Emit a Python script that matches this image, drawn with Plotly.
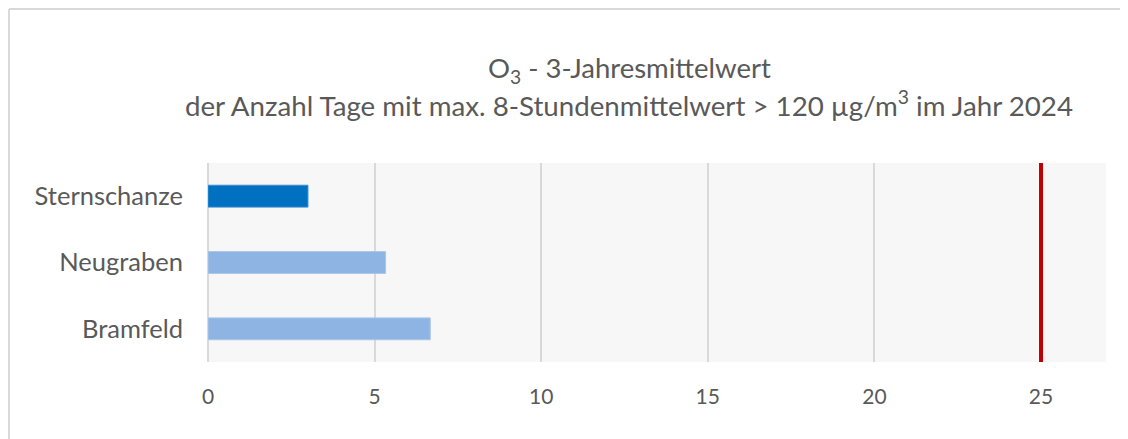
import plotly.graph_objects as go

stations = ["Sternschanze", "Neugraben", "Bramfeld"]
values = [3.0, 5.33, 6.67]
bar_colors = ["#0070c0", "#8eb4e3", "#8eb4e3"]
line_colors = ["#3a8fd0", "#a9c6ea", "#a9c6ea"]
limit_value = 25
x_ticks = [0, 5, 10, 15, 20, 25]
title_line1 = "O<sub>3</sub> - 3-Jahresmittelwert"
title_line2 = "der Anzahl Tage mit max. 8-Stundenmittelwert > 120 µg/m<sup>3</sup> im Jahr 2024"

# page body offsets the figure by 8px, so work in window pixels minus 8
OFF = 8
W, H = 1120, 431
L, T = 208 - OFF, 163 - OFF
pw, ph = 898, 199
R, B = W - L - pw, H - T - ph

FONT = "Lato"
TXT = "#595959"

fig = go.Figure()
fig.add_trace(go.Bar(
    y=stations, x=values, orientation="h",
    marker=dict(color=bar_colors, line=dict(color=line_colors, width=1)),
    hoverinfo="x+y",
))

def px2paper_x(px):
    return (px - OFF - L) / pw

def px2paper_y(py):
    return 1 - (py - OFF - T) / ph

shapes = [
    dict(type="line", xref="x", yref="paper", x0=limit_value, x1=limit_value, y0=0, y1=1,
         line=dict(color="#c00000", width=4), layer="above"),
    dict(type="line", xref="paper", yref="paper",
         x0=px2paper_x(9), x1=px2paper_x(9), y0=px2paper_y(9), y1=px2paper_y(445),
         line=dict(color="#d9d9d9", width=2)),
    dict(type="line", xref="paper", yref="paper",
         x0=px2paper_x(9), x1=px2paper_x(1135), y0=px2paper_y(9), y1=px2paper_y(9),
         line=dict(color="#d9d9d9", width=2)),
]

annotations = [
    dict(text=title_line1, xref="paper", yref="paper", x=px2paper_x(629), y=px2paper_y(70),
         xanchor="center", yanchor="middle", showarrow=False,
         font=dict(family=FONT, size=27.5, color=TXT)),
    dict(text=title_line2, xref="paper", yref="paper", x=px2paper_x(629), y=px2paper_y(103),
         xanchor="center", yanchor="middle", showarrow=False,
         font=dict(family=FONT, size=27.7, color=TXT)),
]

fig.update_layout(
    width=W, height=H,
    margin=dict(l=L, r=R, t=T, b=B, autoexpand=False),
    paper_bgcolor="white", plot_bgcolor="#f7f7f7",
    showlegend=False, bargap=0.67,
    shapes=shapes, annotations=annotations,
    font=dict(family=FONT, color=TXT),
    xaxis=dict(range=[0, 26.95], tickvals=x_ticks, showgrid=True, gridcolor="#d9d9d9", gridwidth=2,
               zeroline=True, zerolinecolor="#d9d9d9", zerolinewidth=2,
               tickfont=dict(family=FONT, size=21, color=TXT), ticklabelstandoff=20,
               fixedrange=True),
    yaxis=dict(autorange="reversed", showgrid=False, zeroline=False,
               tickfont=dict(family=FONT, size=25.5, color=TXT), ticklabelstandoff=24,
               fixedrange=True),
)

fig.write_html("out.html")
